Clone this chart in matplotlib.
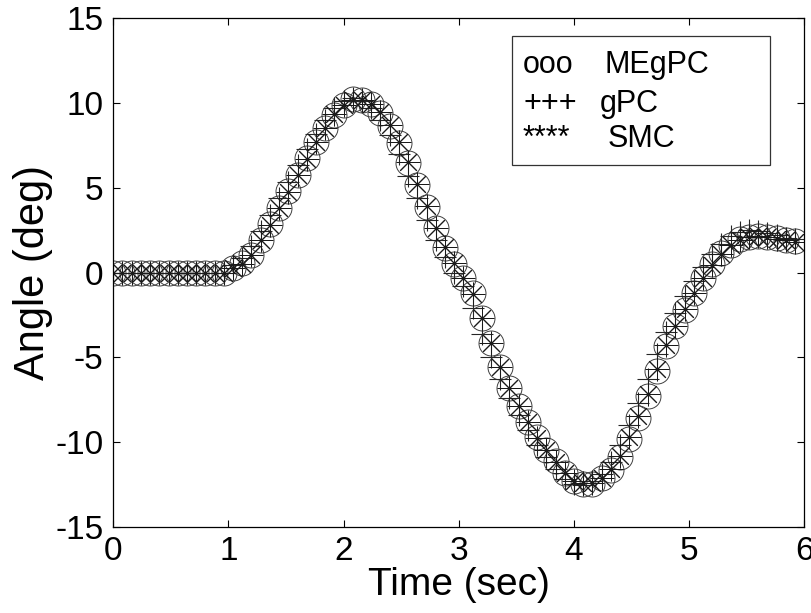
import numpy as np
import matplotlib
matplotlib.use("Agg")
import matplotlib.pyplot as plt
from matplotlib.patches import Rectangle

plt.rcParams['font.family'] = ['Liberation Sans', 'DejaVu Sans']
plt.rcParams['axes.unicode_minus'] = False

# sample step of the simulation (sec)
dt = 0.08

# angle (deg), one value per sample
megpc = [0, 0, 0, 0, 0, 0, 0, 0, 0, 0, 0, 0, 0,
         0.25, 0.55, 1.05, 1.9, 2.85, 3.8, 4.8, 5.75, 6.75, 7.7, 8.5, 9.3,
         9.9, 10.25, 10.2, 9.95, 9.4, 8.65, 7.65, 6.45, 5.15, 3.85, 2.6,
         1.45, 0.5, -0.3, -1.2, -2.7, -4.15, -5.55, -6.8, -7.85, -8.8,
         -9.7, -10.45, -11.15, -11.85, -12.3, -12.5, -12.5, -12.15, -11.65,
         -10.9, -9.8, -8.6, -7.3, -5.8, -4.35, -3.15, -2.2, -1.2, -0.35,
         0.5, 1.15, 1.65, 1.95, 2.12, 2.18, 2.12, 2.03, 1.93, 1.83]

gpc = [0, 0, 0, 0, 0, 0, 0, 0, 0, 0, 0, 0, 0,
       0.45, 0.85, 1.55, 2.45, 3.4, 4.4, 5.35, 6.35, 7.3, 8.2, 9.0, 9.7,
       10.15, 10.3, 10.1, 9.7, 9.0, 8.1, 7.0, 5.7, 4.4, 3.1, 1.9,
       0.9, 0.0, -0.8, -2.1, -3.6, -5.0, -6.3, -7.4, -8.4, -9.3,
       -10.15, -10.9, -11.6, -12.2, -12.5, -12.55, -12.3, -11.9, -11.2,
       -10.2, -9.0, -7.7, -6.3, -4.8, -3.5, -2.4, -1.4, -0.5, 0.3,
       1.1, 1.7, 2.15, 2.4, 2.5, 2.45, 2.35, 2.2, 2.05, 1.95]

smc = [0, 0, 0, 0, 0, 0, 0, 0, 0, 0, 0, 0, 0,
       0.25, 0.5, 1.05, 1.9, 2.8, 3.8, 4.75, 5.75, 6.7, 7.7, 8.5, 9.35,
       9.9, 10.2, 10.2, 9.95, 9.45, 8.7, 7.7, 6.5, 5.2, 3.9, 2.65,
       1.5, 0.55, -0.3, -1.25, -2.7, -4.15, -5.55, -6.8, -7.85, -8.85,
       -9.75, -10.5, -11.2, -11.85, -12.3, -12.45, -12.45, -12.1, -11.6,
       -10.8, -9.7, -8.45, -7.15, -5.7, -4.3, -3.15, -2.15, -1.2, -0.35,
       0.45, 1.1, 1.6, 1.9, 2.08, 2.15, 2.1, 2.0, 1.9, 1.8]

time = np.arange(len(megpc)) * dt

fig = plt.figure(figsize=(8.12, 6.13), dpi=100)
ax = fig.add_axes([0.1395, 0.1408, 0.851, 0.8293])

ax.plot(time, megpc, linestyle='none', marker='o', markersize=18,
        markerfacecolor='none', markeredgecolor='0.25', markeredgewidth=0.7)
ax.plot(time, gpc, linestyle='none', marker='+', markersize=16,
        markeredgecolor='0.15', markeredgewidth=0.8)
ax.plot(time, smc, linestyle='none', marker=(8, 2, 0), markersize=17,
        markeredgecolor='0.1', markeredgewidth=0.7)

ax.set_xlim(0, 6)
ax.set_ylim(-15, 15)
ax.set_xticks([0, 1, 2, 3, 4, 5, 6])
ax.set_yticks([-15, -10, -5, 0, 5, 10, 15])
ax.tick_params(direction='in', length=5, width=0.8, labelsize=24,
               top=True, right=True, pad=7)
for s in ax.spines.values():
    s.set_linewidth(0.9)

ax.set_xlabel('Time (sec)', fontsize=28, labelpad=0)
ax.set_ylabel('Angle (deg)', fontsize=30, labelpad=2)

# hand drawn legend box, as in the original
ax.add_patch(Rectangle((0.577, 0.711), 0.374, 0.254, transform=ax.transAxes,
                       facecolor='white', edgecolor='0.2', linewidth=0.9,
                       zorder=5))
rows = [('ooo', 'MEgPC', 0.892, 0.711),
        ('+++', 'gPC', 0.816, 0.704),
        ('****', 'SMC', 0.747, 0.715)]
for sym, name, yb, xn in rows:
    ax.text(0.593, yb, sym, transform=ax.transAxes, fontsize=22,
            va='baseline', ha='left', zorder=6)
    ax.text(xn, yb, name, transform=ax.transAxes, fontsize=22,
            va='baseline', ha='left', zorder=6)

fig.savefig('out.png', dpi=100)
